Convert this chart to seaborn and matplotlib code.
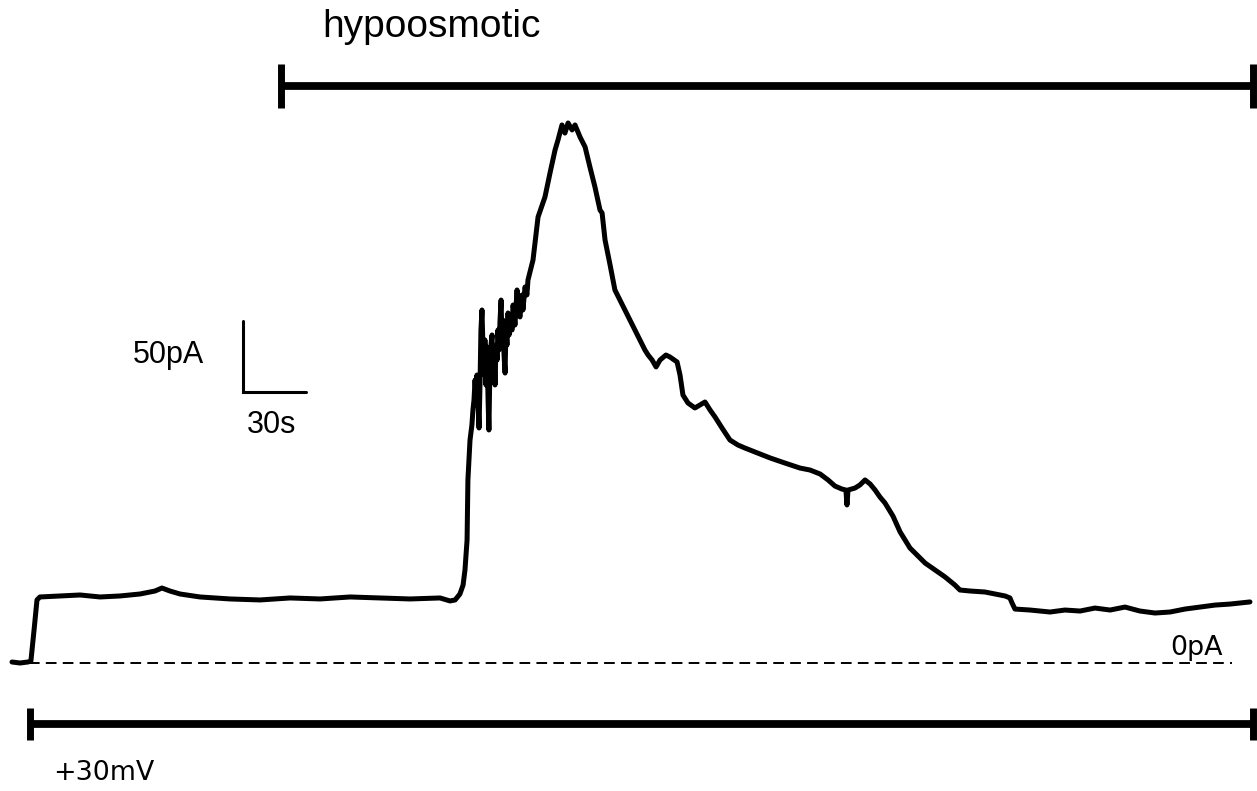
import matplotlib
matplotlib.use("Agg")
import matplotlib.pyplot as plt
import seaborn as sns
import pandas as pd

# ---- data: whole-cell current trace (time in s, current in pA) ----
time_s = [0, 3.8, 7.6, 9.0, 10.5, 11.9, 13.3, 22.9, 32.4, 41.9, 51.4, 61.0, 68.1, 71.4, 75.2,
          80.0, 89.5, 103.8, 118.1, 132.4, 146.7, 161.0, 175.2, 189.5, 203.8, 208.6, 211.0,
          213.3, 214.8, 215.7, 216.7,
          217.1, 218.1, 219.0, 219.5, 220.0, 220.5, 221.0, 221.4, 221.9, 222.4, 222.9, 223.3,
          223.8, 224.3, 224.8, 225.2, 225.7, 226.2, 226.7, 227.1, 227.6, 228.1, 228.6, 229.0,
          229.5, 230.0, 230.5, 231.0, 231.4, 231.9, 232.4, 232.9, 233.3, 233.8, 234.3, 234.8,
          235.2, 235.7, 236.2, 236.7, 237.1, 238.1, 238.6, 239.5, 240.5, 241.0, 241.9, 242.9,
          243.3, 244.3, 245.2, 245.7,
          248.1, 250.5, 253.8, 256.2, 258.6, 260.0, 261.9, 263.3, 264.8, 266.7, 268.1, 270.5,
          272.9, 275.2, 277.6, 280.0,
          281.0, 282.4, 284.8, 287.1, 289.5, 294.3, 299.0, 301.4, 302.9, 304.8, 306.7, 308.6,
          311.4, 313.3, 316.7, 318.1, 319.5, 321.9, 325.2, 327.6, 330.0, 332.4, 334.8, 338.1,
          341.9, 345.7, 349.0, 353.8, 361.0, 368.1, 375.2, 380.0, 384.8, 388.6, 391.9, 395.2,
          397.1, 397.6, 398.1, 401.4, 403.8, 406.2, 408.6, 411.0, 413.3, 415.7, 419.5, 422.9,
          427.6, 434.8, 444.3, 449.0, 451.4, 456.2, 463.3, 468.1, 472.9, 475.2, 476.2, 477.6,
          484.8, 494.3, 501.4, 508.6, 515.7, 522.9, 530.0, 537.1, 544.3, 551.4, 558.6, 565.7,
          572.9, 580.0, 589.5]
current_pA = [0.7, 0.0, 0.7, 1.4, 23.2, 44.4, 46.5, 47.2, 47.9, 46.5, 47.2, 48.6, 50.7, 52.8, 50.7,
              48.6, 46.5, 45.1, 44.4, 45.8, 45.1, 46.5, 45.8, 45.1, 45.8, 43.7, 44.4,
              48.6, 54.9, 65.5, 86.6,
              128.9, 157.0, 167.6, 178.2, 185.2, 199.3, 186.6, 202.8, 185.2, 165.5, 199.3, 234.5,
              248.6, 220.4, 202.8, 227.5, 195.8, 222.5, 185.2, 164.1, 209.9, 223.9, 231.0, 202.8,
              220.4, 195.8, 223.9, 213.4, 234.5, 220.4, 241.5, 255.6, 227.5, 241.5, 216.9, 204.2,
              234.5, 223.9, 246.5, 231.0, 241.5, 234.5, 252.1, 238.0, 262.7, 248.6, 243.7, 259.2,
              248.6, 264.8, 259.2, 269.7,
              283.8, 314.1, 328.2, 345.1, 361.3, 368.3, 378.9, 373.2, 380.3, 375.4, 378.9, 370.4,
              363.4, 349.3, 335.2, 319.0,
              316.9, 297.9, 280.3, 262.7, 255.6, 241.5, 227.5, 220.4, 216.9, 213.4, 208.5, 213.4,
              216.9, 215.5, 212.0, 202.8, 188.7, 183.1, 179.6, 181.7, 183.8, 178.2, 173.2, 165.5,
              157.0, 153.5, 151.4, 148.6, 144.4, 140.8, 137.3, 135.9, 133.1, 128.9, 124.6, 122.5,
              121.8, 111.3, 121.8, 123.2, 125.4, 128.9, 126.1, 121.8, 116.9, 112.7, 103.5, 92.3,
              81.0, 70.4, 60.6, 54.9, 51.4, 50.7, 50.0, 48.6, 47.2, 45.8, 42.3, 38.0,
              37.3, 35.9, 37.3, 36.6, 38.7, 37.3, 39.4, 36.6, 35.2, 35.9, 38.0, 39.4,
              40.8, 41.5, 43.0]

# protocol / annotation values
hypo_start_s = 128.1
record_start_s = 8.6
record_end_s = 591.0
zero_line_end_s = 580.9
scale_pA = 50
scale_s = 30

df = pd.DataFrame({"t": time_s, "I": current_pA})

sns.set_style("white")
fig = plt.figure(figsize=(12.57, 7.91), dpi=100)
ax = fig.add_axes([0, 0, 1, 1])

sns.lineplot(data=df, x="t", y="I", ax=ax, color="black", lw=3.6,
             sort=False, estimator=None)

# zero-current dashed reference
ax.plot([0, zero_line_end_s], [0, 0], color="black", lw=1.4, dashes=(5.5, 3.2))

# hypoosmotic bar
top_y = 406.3
ax.plot([hypo_start_s, record_end_s], [top_y, top_y], color="black", lw=5.6,
        solid_capstyle="butt")
for xx in (hypo_start_s, record_end_s):
    ax.plot([xx, xx], [390.8, 421.8], color="black", lw=5.0, solid_capstyle="butt")

# holding potential bar
bot_y = -43.0
ax.plot([record_start_s, record_end_s], [bot_y, bot_y], color="black", lw=5.6,
        solid_capstyle="butt")
for xx in (record_start_s, record_end_s):
    ax.plot([xx, xx], [-54.2, -31.7], color="black", lw=5.0, solid_capstyle="butt")

# scale bar
sb_x, sb_y = 110.0, 190.8
ax.plot([sb_x, sb_x, sb_x + scale_s], [sb_y + scale_pA, sb_y, sb_y], color="black",
        lw=2.2, solid_joinstyle="miter")

arial = ["Liberation Sans", "DejaVu Sans"]
dv = ["DejaVu Sans"]
ax.text(147.6, 440.8, "hypoosmotic", fontsize=28, family=arial, ha="left", va="baseline",
        color="black")
ax.text(57.6, 211.3, "50pA", fontsize=22, family=arial, ha="left", va="baseline", color="black")
ax.text(111.9, 162.0, "30s", fontsize=22, family=arial, ha="left", va="baseline", color="black")
ax.text(19.5, -82.4, "+30mV", fontsize=19.4, family=dv, ha="left", va="baseline", color="black")
ax.text(551.4, 5.6, "0pA", fontsize=19.4, family=dv, ha="left", va="baseline", color="black")

ax.set_xlim(-12 / 2.1, 1245 / 2.1)
ax.set_ylim((663 - 791) / 1.42, 663 / 1.42)
ax.axis("off")

fig.savefig("out.png", dpi=100, facecolor="white")
